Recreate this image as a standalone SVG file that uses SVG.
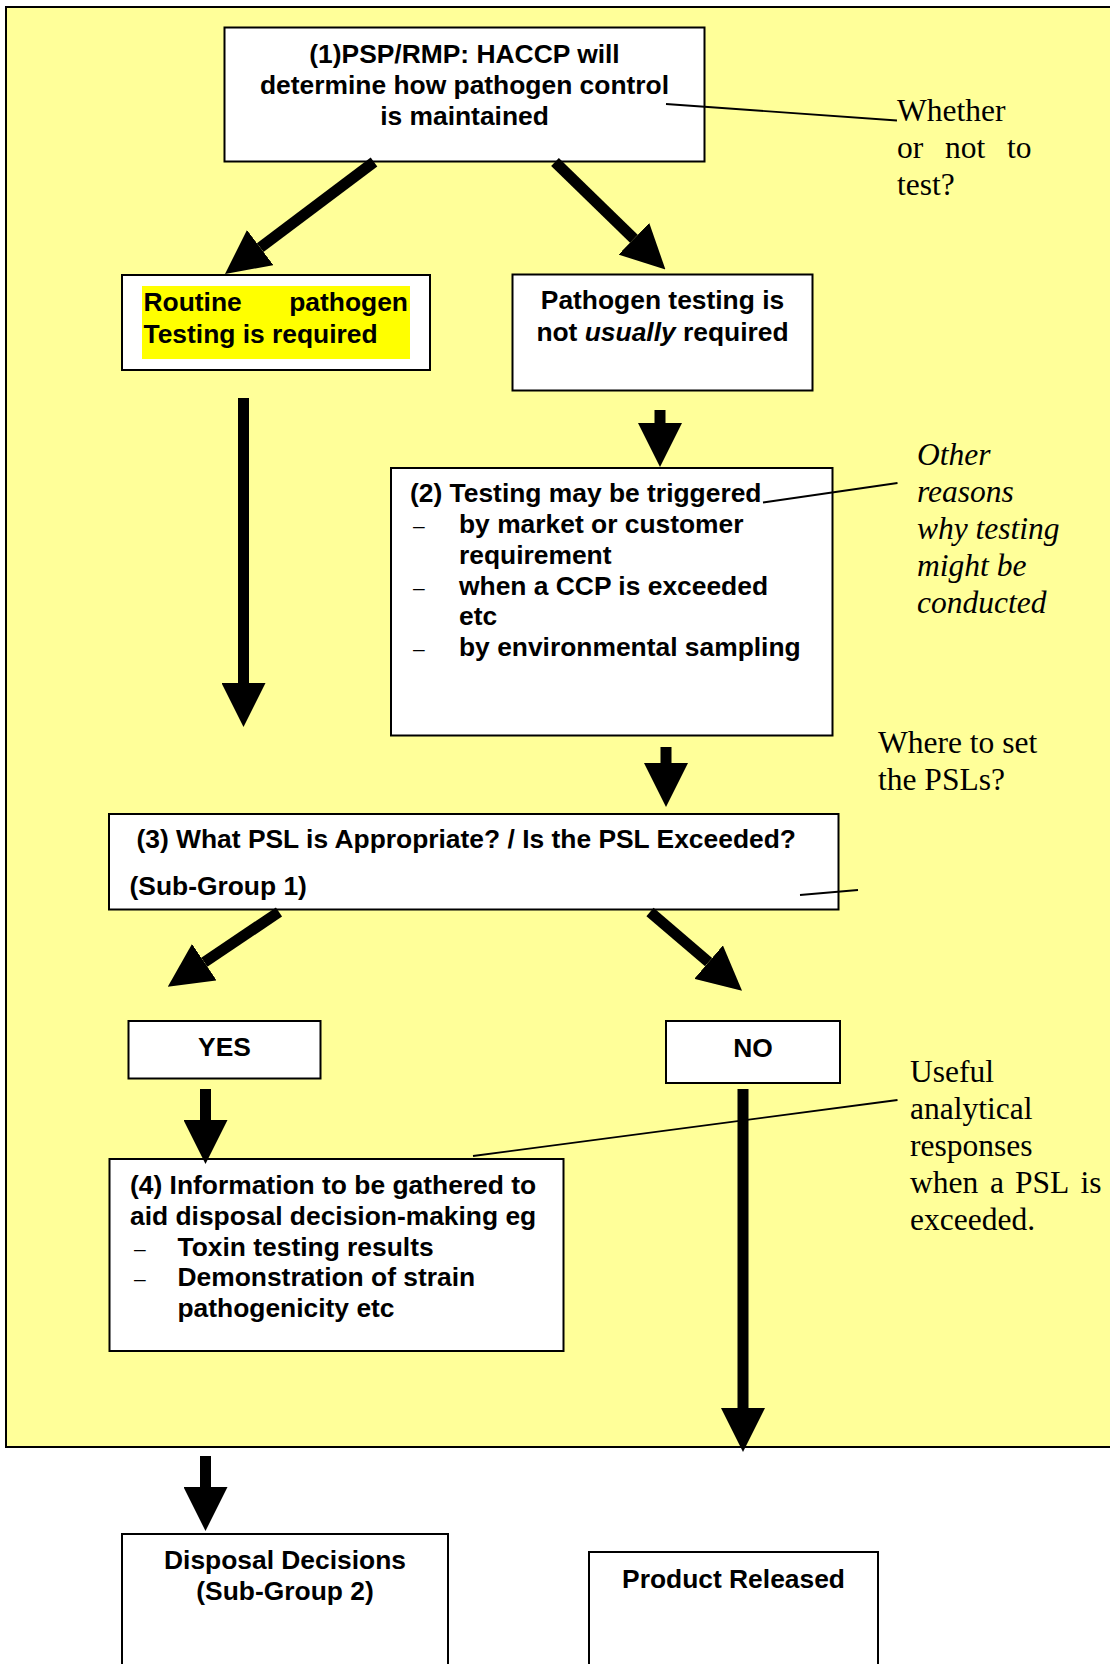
<svg xmlns="http://www.w3.org/2000/svg" width="1110" height="1664" viewBox="0 0 1110 1664">
<style>
.bx{fill:#fff;stroke:#000;stroke-width:2}
.t{font-family:"Liberation Sans",Arial,sans-serif;font-weight:bold;font-size:26.4px;fill:#000}
.c{text-anchor:middle}
.d{font-family:"Liberation Sans",Arial,sans-serif;font-weight:normal;font-size:21px;fill:#000}
.s{font-family:"Liberation Serif","Times New Roman",serif;font-size:31.5px;fill:#000}
.i{font-style:italic}
.ann{stroke:#000;stroke-width:1.8;fill:none}
.arr{stroke:#000;stroke-width:11;fill:none;marker-end:url(#ah)}
</style>
<defs>
<marker id="ah" viewBox="0 -22 44 44" refX="0" refY="0" markerWidth="44" markerHeight="44" markerUnits="userSpaceOnUse" orient="auto">
<path d="M0,-22 L44,0 L0,22 z" fill="#000"/>
</marker>
</defs>
<rect width="1110" height="1664" fill="#fff"/>
<rect x="6" y="7" width="1120" height="1440" fill="#FFFF99" stroke="#000" stroke-width="2"/>

<g id="n1">
<rect class="bx" x="224.5" y="27.5" width="480" height="134"/>
<text class="t c" x="464.5" y="63">(1)PSP/RMP: HACCP will</text>
<text class="t c" x="464.5" y="94">determine how pathogen control</text>
<text class="t c" x="464.5" y="125">is maintained</text>
</g>

<g id="n2">
<rect class="bx" x="122" y="275" width="308" height="95"/>
<rect x="142" y="286" width="268" height="73" fill="#FFFF00"/>
<text class="t" x="143.5" y="311">Routine</text>
<text class="t" x="408" y="311" text-anchor="end">pathogen</text>
<text class="t" x="143.5" y="343">Testing is required</text>
</g>

<g id="n3">
<rect class="bx" x="512.5" y="274.5" width="300" height="116"/>
<text class="t c" x="662.5" y="309">Pathogen testing is</text>
<text class="t c" x="662.5" y="341">not <tspan font-style="italic">usually</tspan> required</text>
</g>

<g id="n4">
<rect class="bx" x="391" y="468" width="441.5" height="267.5"/>
<text class="t" x="410" y="502">(2) Testing may be triggered</text>
<text class="d" x="413" y="533">–</text>
<text class="t" x="459" y="533">by market or customer</text>
<text class="t" x="459" y="564">requirement</text>
<text class="d" x="413" y="595">–</text>
<text class="t" x="459" y="595">when a CCP is exceeded</text>
<text class="t" x="459" y="625">etc</text>
<text class="d" x="413" y="656">–</text>
<text class="t" x="459" y="656">by environmental sampling</text>
</g>

<g id="n5">
<rect class="bx" x="109" y="814" width="729.5" height="95.5"/>
<text class="t" x="136.5" y="848">(3) What PSL is Appropriate? / Is the PSL Exceeded?</text>
<text class="t" x="129.5" y="895">(Sub-Group 1)</text>
</g>

<g id="n6">
<rect class="bx" x="128.5" y="1021" width="192" height="57.5"/>
<text class="t c" x="224.5" y="1056">YES</text>
</g>

<g id="n7">
<rect class="bx" x="666" y="1021" width="174" height="62"/>
<text class="t c" x="753" y="1057">NO</text>
</g>

<g id="n8">
<rect class="bx" x="109.5" y="1159" width="454" height="192"/>
<text class="t" x="130" y="1194">(4) Information to be gathered to</text>
<text class="t" x="130" y="1225">aid disposal decision-making eg</text>
<text class="d" x="134" y="1256">–</text>
<text class="t" x="177.5" y="1256">Toxin testing results</text>
<text class="d" x="134" y="1286">–</text>
<text class="t" x="177.5" y="1286">Demonstration of strain</text>
<text class="t" x="177.5" y="1317">pathogenicity etc</text>
</g>

<g id="n9">
<rect class="bx" x="122" y="1534" width="326" height="150"/>
<text class="t c" x="285" y="1569">Disposal Decisions</text>
<text class="t c" x="285" y="1600">(Sub-Group 2)</text>
</g>

<g id="n10">
<rect class="bx" x="589" y="1552" width="289" height="130"/>
<text class="t c" x="733.5" y="1588">Product Released</text>
</g>

<g id="a1">
<text class="s" x="897" y="121">Whether</text>
<text class="s" y="158"><tspan x="897">or</tspan><tspan x="945">not</tspan><tspan x="1007">to</tspan></text>
<text class="s" x="897" y="195">test?</text>
</g>

<g id="a2">
<text class="s i" x="917" y="464.5">Other</text>
<text class="s i" x="917" y="501.5">reasons</text>
<text class="s i" x="917" y="538.5">why testing</text>
<text class="s i" x="917" y="575.5">might be</text>
<text class="s i" x="917" y="612.5">conducted</text>
</g>

<g id="a3">
<text class="s" x="878" y="753">Where to set</text>
<text class="s" x="878" y="790">the PSLs?</text>
</g>

<g id="a4">
<text class="s" x="910" y="1082">Useful</text>
<text class="s" x="910" y="1119">analytical</text>
<text class="s" x="910" y="1156">responses</text>
<text class="s" y="1193"><tspan x="910">when</tspan><tspan x="990">a</tspan><tspan x="1015">PSL</tspan><tspan x="1080.5">is</tspan></text>
<text class="s" x="910" y="1230">exceeded.</text>
</g>

<g id="connectors">
<line class="arr" x1="374" y1="162" x2="260.2" y2="247.6"/>
<line class="arr" x1="555" y1="162" x2="633.9" y2="238.8"/>
<line class="arr" x1="243.5" y1="398" x2="243.5" y2="683"/>
<line class="arr" x1="660" y1="410" x2="660" y2="423"/>
<line class="arr" x1="666" y1="747" x2="666" y2="763"/>
<line class="arr" x1="279" y1="912" x2="204.3" y2="962.2"/>
<line class="arr" x1="650" y1="912" x2="708.6" y2="962.1"/>
<line class="arr" x1="205.5" y1="1089" x2="205.5" y2="1120"/>
<line class="arr" x1="743" y1="1089" x2="743" y2="1408"/>
<line class="arr" x1="205.5" y1="1456" x2="205.5" y2="1487"/>
<line class="ann" x1="666" y1="104" x2="897" y2="120.5"/>
<line class="ann" x1="763" y1="502.5" x2="897.5" y2="483"/>
<line class="ann" x1="800" y1="895" x2="858" y2="890"/>
<line class="ann" x1="473" y1="1156" x2="897.5" y2="1100"/>
</g>
</svg>
